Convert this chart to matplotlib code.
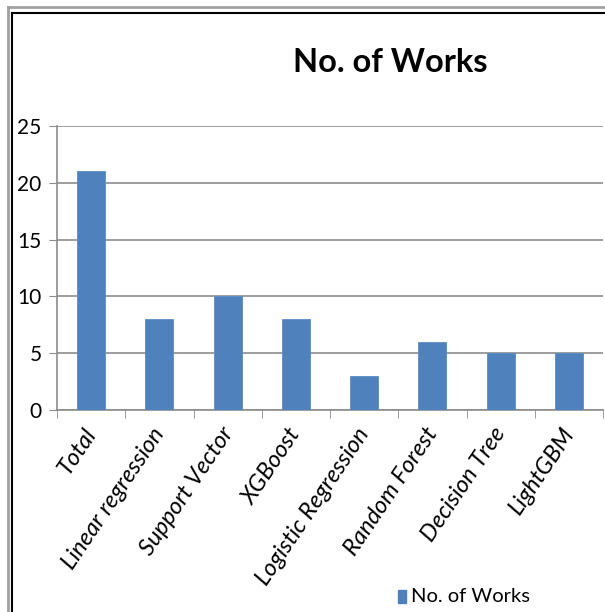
import matplotlib.pyplot as plt
from matplotlib.patches import Rectangle
from matplotlib.lines import Line2D
from matplotlib.transforms import ScaledTranslation

categories = ['Total', 'Linear regression', 'Support Vector', 'XGBoost',
              'Logistic Regression', 'Random Forest', 'Decision Tree', 'LightGBM']
works = [21, 8, 10, 8, 3, 6, 5, 5]
yticks = [0, 5, 10, 15, 20, 25]

FONT = ['Lato', 'DejaVu Sans']
plt.rcParams['font.family'] = FONT

W, H = 605, 612
fig = plt.figure(figsize=(W / 100, H / 100), dpi=100)

# chart frame (gray outer, black inner)
fig.add_artist(Line2D([8 / W, 1], [1 - 6.5 / H, 1 - 6.5 / H], color='#a0a0a0', lw=2))
fig.add_artist(Line2D([8 / W, 8 / W], [0, 1 - 6.5 / H], color='#a0a0a0', lw=2))
fig.add_artist(Line2D([12 / W, 1], [1 - 13 / H, 1 - 13 / H], color='black', lw=1.5))
fig.add_artist(Line2D([12 / W, 12 / W], [0, 1 - 13 / H], color='black', lw=1.5))

ax = fig.add_axes([57 / W, 1 - 410 / H, 546 / W, 284 / H])
x = range(len(categories))
ax.bar(x, works, width=0.41, color='#4f81bd', edgecolor='#5b8cc6', lw=0.6,
       label='No. of Works', zorder=3)
ax.set_xlim(-0.5, len(categories) - 0.5)
ax.set_ylim(0, 25)
ax.set_yticks(yticks)
ax.grid(axis='y', color='#8c8c8c', lw=1.2, zorder=0)
for s in ['top', 'right']:
    ax.spines[s].set_visible(False)
for s in ['left', 'bottom']:
    ax.spines[s].set_color('#8c8c8c')
    ax.spines[s].set_linewidth(1.2)
ax.tick_params(axis='y', length=6, color='#8c8c8c', labelsize=15, pad=5)
ax.set_xticks([i + 0.5 for i in range(-1, len(categories))], minor=True)
ax.set_xticks(list(x))
ax.tick_params(axis='x', which='major', length=0, pad=10)
ax.tick_params(axis='x', which='minor', length=6, color='#8c8c8c')
ax.set_xticklabels(categories, rotation=56, ha='right', rotation_mode='anchor',
                   fontsize=17, fontstyle='italic')
shift = ScaledTranslation(-8 / 100, 0, fig.dpi_scale_trans)
for lbl in ax.get_xticklabels():
    lbl.set_transform(lbl.get_transform() + shift)

fig.text(390 / W, 1 - 62 / H, 'No. of Works', ha='center', va='center',
         fontsize=23.5, fontweight='bold')

# legend
fig.add_artist(Rectangle((398 / W, 1 - 603 / H), 8 / W, 13 / H,
                         transform=fig.transFigure, color='#4f81bd'))
fig.text(411 / W, 1 - 597 / H, 'No. of Works', ha='left', va='center', fontsize=14.5)

fig.savefig('out.png', dpi=100)
